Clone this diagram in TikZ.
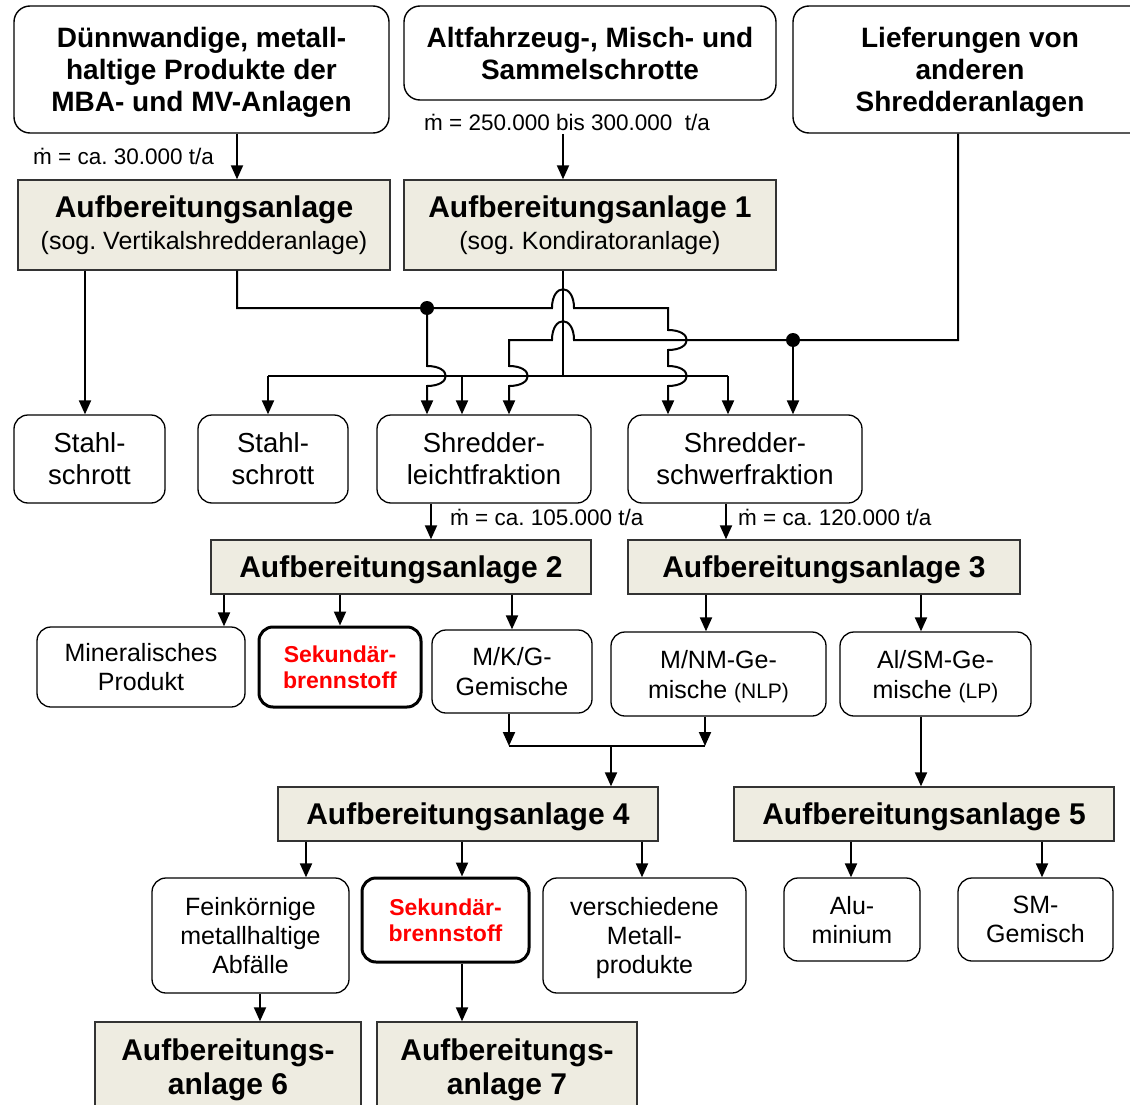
\documentclass[tikz,border=0pt]{standalone}
\usepackage{fontspec}
\setmainfont{Liberation Sans}
\frenchspacing
\usetikzlibrary{arrows.meta}
\definecolor{plantfill}{HTML}{EEECE1}
\tikzstyle{source}=[draw, rounded corners=16, line width=1.4, fill=white, align=center, inner sep=0, text depth=0pt, font=\fontsize{28}{32}\selectfont\bfseries]
\tikzstyle{plant}=[draw=black!80, fill=plantfill, line width=1.4, align=center, inner sep=0, text depth=0pt, font=\fontsize{30}{32}\selectfont\bfseries]
\tikzstyle{product}=[draw, rounded corners=14, line width=1.3, fill=white, align=center, inner sep=0, text depth=0pt, font=\fontsize{25}{29}\selectfont]
\tikzstyle{fraction}=[product, font=\fontsize{27.5}{32}\selectfont]
\tikzstyle{fuel}=[product, line width=3, text=red, font=\fontsize{23}{26}\selectfont\bfseries]
\tikzstyle{rate}=[anchor=west, inner sep=0, font=\fontsize{22.5}{26}\selectfont]
\tikzstyle{link}=[line width=2]
\tikzstyle{flow}=[link, -{Triangle[length=14pt, width=12pt]}]
\tikzstyle{junction}=[circle, fill, inner sep=0, minimum size=14]
\newcommand{\subfont}{\fontsize{25}{32}\selectfont\mdseries}
% line jumps: horizontal one arches up, vertical one bends to the right
\newcommand{\hoph}[3]{-- ({#1-#3},#2) .. controls ({#1-#3},{#2-25}) and ({#1+#3},{#2-25}) .. ({#1+#3},#2)}
\newcommand{\hopv}[2]{-- (#1,{#2-10}) .. controls ({#1+25},{#2-10}) and ({#1+25},{#2+10}) .. (#1,{#2+10})}

\begin{document}
\begin{tikzpicture}[x=1pt, y=-1pt]
  \useasboundingbox (0,0) rectangle (1130,1105);
  \clip (0,0) rectangle (1130,1105);

  % inputs
  \node[source, minimum width=375, minimum height=127] (duenn) at (201.5,69.5) {Dünnwandige, metall-\\haltige Produkte der\\MBA- und MV-Anlagen};
  \node[source, minimum width=372, minimum height=94] (altfz) at (590,53) {Altfahrzeug-, Misch- und\\Sammelschrotte};
  \node[source, minimum width=354, minimum height=127] (liefer) at (970,69.5) {Lieferungen von\\anderen\\Shredderanlagen};

  \node[rate] (rate_duenn) at (33,156) {\.{m} = ca. 30.000 t/a};
  \node[rate] (rate_altfz) at (424,122) {\.{m} = 250.000 bis 300.000~ t/a};

  \node[plant, text depth=5pt, minimum width=372, minimum height=90] (vertikal) at (204,225) {Aufbereitungsanlage\\{\subfont(sog. Vertikalshredderanlage)}};
  \node[plant, text depth=5pt, minimum width=372, minimum height=90] (anlage1) at (590,225) {Aufbereitungsanlage 1\\{\subfont(sog. Kondiratoranlage)}};

  \node[fraction, minimum width=151, minimum height=88] (stahl1) at (89.5,459) {Stahl-\\schrott};
  \node[fraction, minimum width=150, minimum height=88] (stahl2) at (273,459) {Stahl-\\schrott};
  \node[fraction, minimum width=214, minimum height=88] (leicht) at (484,459) {Shredder-\\leichtfraktion};
  \node[fraction, minimum width=234, minimum height=88] (schwer) at (745,459) {Shredder-\\schwerfraktion};

  \node[rate] (rate_leicht) at (450,517) {\.{m} = ca. 105.000 t/a};
  \node[rate] (rate_schwer) at (738,517) {\.{m} = ca. 120.000 t/a};

  \node[plant, minimum width=380, minimum height=54] (anlage2) at (401,567) {Aufbereitungsanlage 2};
  \node[plant, minimum width=392, minimum height=54] (anlage3) at (824,567) {Aufbereitungsanlage 3};

  \node[product, minimum width=208, minimum height=80] (mineral) at (141,667) {Mineralisches\\Produkt};
  \node[fuel, minimum width=162, minimum height=80] (sbs1) at (340,667) {Sekundär-\\brennstoff};
  \node[product, minimum width=160, minimum height=83] (mkg) at (512,671.5) {M/K/G-\\[1pt]Gemische};
  \node[product, minimum width=215, minimum height=84] (mnm) at (718.5,674) {M/NM-Ge-\\[1pt]mische {\fontsize{21}{29}\selectfont(NLP)}};
  \node[product, minimum width=191, minimum height=84] (alsm) at (935.5,674) {Al/SM-Ge-\\[1pt]mische {\fontsize{21}{29}\selectfont(LP)}};

  \node[plant, minimum width=380, minimum height=54] (anlage4) at (468,814) {Aufbereitungsanlage 4};
  \node[plant, minimum width=380, minimum height=54] (anlage5) at (924,814) {Aufbereitungsanlage 5};

  \node[product, minimum width=197, minimum height=115] (feink) at (250.5,935.5) {Feinkörnige\\metallhaltige\\Abfälle};
  \node[fuel, minimum width=167, minimum height=84] (sbs2) at (445.5,920) {Sekundär-\\brennstoff};
  \node[product, minimum width=203, minimum height=115] (metall) at (644.5,935.5) {verschiedene\\Metall-\\produkte};
  \node[product, minimum width=136, minimum height=83] (alu) at (852,919.5) {Alu-\\minium};
  \node[product, minimum width=155, minimum height=83] (smgem) at (1035.5,919.5) {SM-\\Gemisch};

  \node[plant, minimum width=266, minimum height=90] (anlage6) at (228,1067) {Aufbereitungs-\\[2pt]anlage 6};
  \node[plant, minimum width=260, minimum height=90] (anlage7) at (507,1067) {Aufbereitungs-\\[2pt]anlage 7};

  % feed lines
  \coordinate (out_v) at (85,0);
  \coordinate (bend_v) at (237,308);
  \coordinate (feed1) at (563,134);
  \draw[flow] (duenn.south -| bend_v) -- (vertikal.north -| bend_v);
  \draw[flow] (feed1) -- (anlage1.north -| feed1);
  \draw[flow] (vertikal.south -| out_v) -- (stahl1.north -| out_v);

  % crossing network between the shredders and the fractions
  \coordinate (dot_l) at (427,308);
  \coordinate (bend_s) at (668,308);
  \coordinate (bar_c) at (563,376);
  \coordinate (bar_l) at (268,376);
  \coordinate (bar_m) at (462,376);
  \coordinate (bar_r) at (728,376);
  \coordinate (bend_lf) at (958,340);
  \coordinate (dot_r) at (793,340);
  \coordinate (bend_lk) at (509,340);

  \draw[flow] (vertikal.south -| bend_v) -- (bend_v) \hoph{563}{308}{11} -- (bend_s) \hopv{668}{340} \hopv{668}{376} -- (schwer.north -| bend_s);
  \draw[flow] (dot_l) \hopv{427}{376} -- (leicht.north -| dot_l);
  \draw[link] (anlage1.south -| bar_c) -- (bar_c);
  \draw[link] (bar_l) -- (bar_r);
  \draw[flow] (bar_l) -- (stahl2.north -| bar_l);
  \draw[flow] (bar_m) -- (leicht.north -| bar_m);
  \draw[flow] (bar_r) -- (schwer.north -| bar_r);
  \draw[flow] (liefer.south -| bend_lf) -- (bend_lf) -- (dot_r) \hoph{563}{340}{-11} -- (bend_lk) \hopv{509}{376} -- (leicht.north -| bend_lk);
  \draw[flow] (dot_r) -- (schwer.north -| dot_r);
  \node[junction] at (dot_l) {};
  \node[junction] at (dot_r) {};

  % second stage
  \coordinate (feed2) at (431,0);
  \coordinate (feed3) at (726,0);
  \draw[flow] (leicht.south -| feed2) -- (anlage2.north -| feed2);
  \draw[flow] (schwer.south -| feed3) -- (anlage3.north -| feed3);

  \coordinate (to_mineral) at (224,0);
  \coordinate (to_sbs1) at (340,0);
  \coordinate (to_mkg) at (512,0);
  \coordinate (to_mnm) at (706,0);
  \coordinate (to_alsm) at (921,0);
  \draw[flow] (anlage2.south -| to_mineral) -- (mineral.north -| to_mineral);
  \draw[flow] (anlage2.south -| to_sbs1) -- (sbs1.north -| to_sbs1);
  \draw[flow] (anlage2.south -| to_mkg) -- (mkg.north -| to_mkg);
  \draw[flow] (anlage3.south -| to_mnm) -- (mnm.north -| to_mnm);
  \draw[flow] (anlage3.south -| to_alsm) -- (alsm.north -| to_alsm);

  % merge into plant 4
  \coordinate (merge_l) at (509,746);
  \coordinate (merge_r) at (705,746);
  \coordinate (merge_c) at (611,746);
  \draw[flow] (mkg.south -| merge_l) -- (merge_l);
  \draw[flow] (mnm.south -| merge_r) -- (merge_r);
  \draw[link] (merge_l) -- (merge_r);
  \draw[flow] (merge_c) -- (anlage4.north -| merge_c);
  \draw[flow] (alsm.south -| to_alsm) -- (anlage5.north -| to_alsm);

  % last stage
  \coordinate (to_feink) at (306,0);
  \coordinate (to_sbs2) at (462,0);
  \coordinate (to_metall) at (642,0);
  \coordinate (to_alu) at (851,0);
  \coordinate (to_smgem) at (1042,0);
  \coordinate (to_a6) at (260,0);
  \draw[flow] (anlage4.south -| to_feink) -- (feink.north -| to_feink);
  \draw[flow] (anlage4.south -| to_sbs2) -- (sbs2.north -| to_sbs2);
  \draw[flow] (anlage4.south -| to_metall) -- (metall.north -| to_metall);
  \draw[flow] (anlage5.south -| to_alu) -- (alu.north -| to_alu);
  \draw[flow] (anlage5.south -| to_smgem) -- (smgem.north -| to_smgem);
  \draw[flow] (feink.south -| to_a6) -- (anlage6.north -| to_a6);
  \draw[flow] (sbs2.south -| to_sbs2) -- (anlage7.north -| to_sbs2);
\end{tikzpicture}
\end{document}
